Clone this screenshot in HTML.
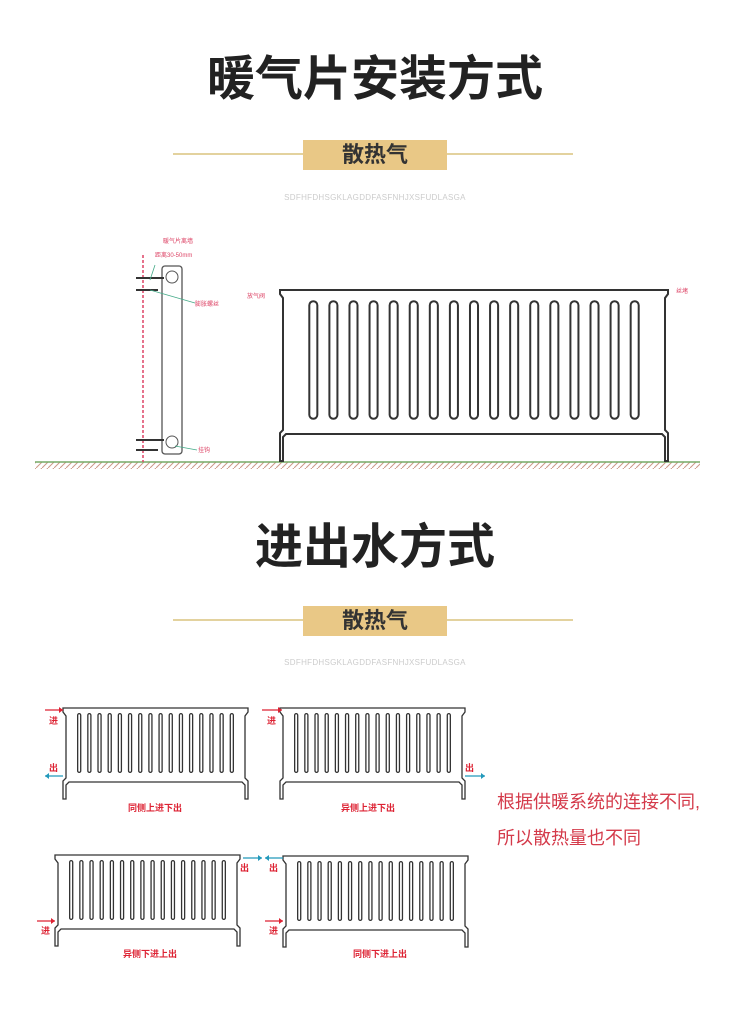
<!DOCTYPE html>
<html><head><meta charset="utf-8"><style>
body{margin:0;width:750px;height:1020px;background:#fff;position:relative;overflow:hidden;font-family:"Liberation Sans","Noto Sans CJK SC",sans-serif}
.t{position:absolute;left:0;width:750px;text-align:center;font-weight:bold;color:#222;font-size:48px;line-height:50px}
.line{position:absolute;left:173px;width:400px;height:2px;background:#e3d29e}
.tag{position:absolute;left:303px;width:144px;height:30px;background:#e9c886;color:#333;font-size:22px;font-weight:bold;text-align:center;line-height:30px}
.sm{position:absolute;left:0;width:750px;text-align:center;color:#ccc;font-size:8px;letter-spacing:0.3px}
.red{position:absolute;left:497px;color:#d43a4a;font-size:18px;line-height:20px}
svg{position:absolute;left:0;top:0}
</style></head><body>
<div class="t" style="top:55px">暖气片安装方式</div>
<div class="line" style="top:153px"></div><div class="tag" style="top:140px">散热气</div>
<div class="sm" style="top:193px">SDFHFDHSGKLAGDDFASFNHJXSFUDLASGA</div>
<div class="t" style="top:523px">进出水方式</div>
<div class="line" style="top:619px"></div><div class="tag" style="top:606px">散热气</div>
<div class="sm" style="top:658px">SDFHFDHSGKLAGDDFASFNHJXSFUDLASGA</div>
<div class="red" style="top:792px">根据供暖系统的连接不同,</div>
<div class="red" style="top:828px">所以散热量也不同</div>
<svg width="750" height="1020" id="s" font-family="Liberation Sans,Noto Sans CJK SC,sans-serif">
<defs>
<pattern id="h" width="6" height="6" patternUnits="userSpaceOnUse"><path d="M0 6L6 0" stroke="#c98" stroke-width="1"/></pattern>
</defs>
<rect x="35" y="462" width="665" height="7" fill="url(#h)"/>
<line x1="35" y1="462" x2="700" y2="462" stroke="#7a6" stroke-width="1.5"/>
<line x1="143" y1="255" x2="143" y2="462" stroke="#d46" stroke-width="1.5" stroke-dasharray="3,2"/>
<rect x="162" y="266" width="20" height="188" rx="3" fill="none" stroke="#555" stroke-width="1.3"/>
<circle cx="172" cy="277" r="6" fill="none" stroke="#555"/>
<circle cx="172" cy="442" r="6" fill="none" stroke="#555"/>
<path d="M136 278h28M136 290h22M136 440h28M136 450h22" stroke="#333" stroke-width="2"/>
<text x="163" y="243" font-size="6" fill="#d46">暖气片离墙</text>
<text x="155" y="257" font-size="6" fill="#d46">距离30-50mm</text>
<text x="195" y="306" font-size="6" fill="#d46">膨胀螺丝</text>
<text x="198" y="452" font-size="6" fill="#d46">挂钩</text>
<text x="247" y="298" font-size="6" fill="#d46">放气阀</text>
<text x="676" y="293" font-size="6" fill="#d46">丝堵</text>
<path d="M155 265L150 280M150 290L195 303M175 446L197 450" stroke="#4a8" fill="none" stroke-width="0.8"/>
<g id="big"></g>
<g id="small" font-size="9" font-weight="bold"></g>
</svg>
<script>
function rad(x,y,w,h,foot,n,sw,r){
 let s='';const k=sw;
 s+=`<path d="M${x} ${y}h${w}v4l-3 4v${h-8}l3 3v${foot}l-3 0v-${foot-4}l-3-3H${x+6}l-3 3v${foot-4}h-3v-${foot}l3-3V${y+8}l-3-4z" fill="none" stroke="#333" stroke-width="${k}"/>`;
 const fx=x+w*0.06, fw=w*0.88, step=fw/n, fwid=step*r;
 for(let i=0;i<n;i++){let cx=fx+step*(i+0.5);s+=`<rect x="${cx-fwid/2}" y="${y+h*0.08}" width="${fwid}" height="${h*0.84}" rx="${fwid/2}" fill="none" stroke="#333" stroke-width="${k}"/>`}
 return s;
}
document.getElementById('big').innerHTML=rad(280,290,388,140,28,17,2,0.4);
let g='';
g+=rad(63,708,185,70,18,16,1.3,0.3)+rad(280,708,185,70,18,16,1.3,0.3)+rad(55,855,185,70,18,16,1.3,0.3)+rad(283,856,185,70,18,16,1.3,0.3);
function ar(x1,x2,y,c){const d=x2>x1?-1:1;return `<line x1="${x1}" y1="${y}" x2="${x2}" y2="${y}" stroke="${c}" stroke-width="1.3"/><path d="M${x2} ${y}l${d*4} -3v6z" fill="${c}"/>`}
const R='#d23',B='#29b';
g+=ar(45,63,710,R)+ar(63,45,776,B)+`<text x="49" y="724" fill="${R}">进</text><text x="49" y="771" fill="${R}">出</text>`;
g+=ar(262,282,710,R)+ar(465,485,776,B)+`<text x="267" y="724" fill="${R}">进</text><text x="465" y="771" fill="${R}">出</text>`;
g+=ar(37,55,921,R)+ar(243,262,858,B)+`<text x="41" y="934" fill="${R}">进</text><text x="240" y="871" fill="${R}">出</text>`;
g+=ar(265,283,921,R)+ar(283,265,858,B)+`<text x="269" y="934" fill="${R}">进</text><text x="269" y="871" fill="${R}">出</text>`;
g+=`<text x="155" y="811" text-anchor="middle" fill="${R}">同侧上进下出</text><text x="368" y="811" text-anchor="middle" fill="${R}">异侧上进下出</text><text x="150" y="957" text-anchor="middle" fill="${R}">异侧下进上出</text><text x="380" y="957" text-anchor="middle" fill="${R}">同侧下进上出</text>`;
document.getElementById('small').innerHTML=g;
</script>
</body></html>
